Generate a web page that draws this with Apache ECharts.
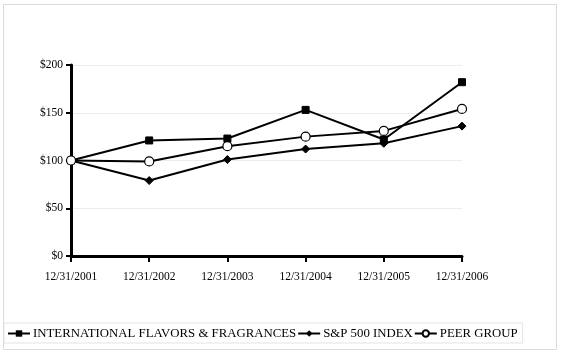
<!DOCTYPE html>
<html>
<head>
<meta charset="utf-8">
<script src="https://cdn.jsdelivr.net/npm/echarts@6/dist/echarts.min.js"></script>
<style>
  html, body { margin: 0; padding: 0; background: #fff; }
  #chart { width: 562px; height: 353px; }
</style>
</head>
<body>
<div id="chart"></div>
<script>
const categories = ['12/31/2001', '12/31/2002', '12/31/2003', '12/31/2004', '12/31/2005', '12/31/2006']
const iffValues = [100, 121, 123, 153, 122, 182]
const spValues = [100, 79, 101, 112, 118, 136]
const peerValues = [100, 99, 115, 125, 131, 154]
const yTicks = [0, 50, 100, 150, 200]

const chart = echarts.init(document.getElementById('chart'))
const serif = '"Liberation Serif", "Times New Roman", serif'

const option = {
    animation: false,
    backgroundColor: '#fff',
    textStyle: { fontFamily: serif, color: '#000' },
    graphic: [
        {
            type: 'rect',
            shape: { x: 3.5, y: 4.5, width: 553, height: 345 },
            style: { fill: 'none', stroke: '#dcdcdc', lineWidth: 1 },
            silent: true
        }
    ],
    grid: { left: 71, right: 100, top: 65, bottom: 97 },
    legend: {
        left: 4,
        top: 323,
        padding: [4, 5, 3, 3],
        itemGap: 1,
        itemWidth: 22,
        itemHeight: 8,
        borderColor: '#e3e3e3',
        borderWidth: 1,
        textStyle: { fontFamily: serif, fontSize: 12.8, color: '#000', padding: [2, 0, 0, -2] },
        data: ['INTERNATIONAL FLAVORS & FRAGRANCES', 'S&P 500 INDEX', 'PEER GROUP']
    },
    xAxis: {
        type: 'category',
        boundaryGap: false,
        data: categories,
        axisLine: { lineStyle: { color: '#000', width: 3 } },
        axisTick: { show: true, length: 6, lineStyle: { color: '#000', width: 2 } },
        axisLabel: { fontFamily: serif, fontSize: 11.5, color: '#000', margin: 15 },
        splitLine: { show: false }
    },
    yAxis: {
        type: 'value',
        min: yTicks[0],
        max: yTicks[yTicks.length - 1],
        interval: 50,
        axisLine: { show: true, lineStyle: { color: '#000', width: 3 } },
        axisTick: { show: true, length: 5, lineStyle: { color: '#000', width: 2 } },
        axisLabel: { fontFamily: serif, fontSize: 11.5, color: '#000', margin: 8, formatter: v => '$' + v },
        splitLine: { lineStyle: { color: '#ececec', width: 1 } }
    },
    series: [
        {
            name: 'INTERNATIONAL FLAVORS & FRAGRANCES',
            type: 'line',
            data: iffValues,
            symbol: 'rect',
            symbolSize: 7,
            showAllSymbol: true,
            lineStyle: { color: '#000', width: 2 },
            itemStyle: { color: '#000', borderColor: '#000' },
            z: 3
        },
        {
            name: 'S&P 500 INDEX',
            type: 'line',
            data: spValues,
            symbol: 'diamond',
            symbolSize: 8,
            showAllSymbol: true,
            lineStyle: { color: '#000', width: 2 },
            itemStyle: { color: '#000', borderColor: '#000' },
            z: 3
        },
        {
            name: 'PEER GROUP',
            type: 'line',
            data: peerValues,
            symbol: 'circle',
            symbolSize: 9,
            showAllSymbol: true,
            lineStyle: { color: '#000', width: 2 },
            itemStyle: { color: '#fff', borderColor: '#000', borderWidth: 1.2 },
            z: 4
        }
    ]
}
option && chart.setOption(option)
</script>
</body>
</html>
